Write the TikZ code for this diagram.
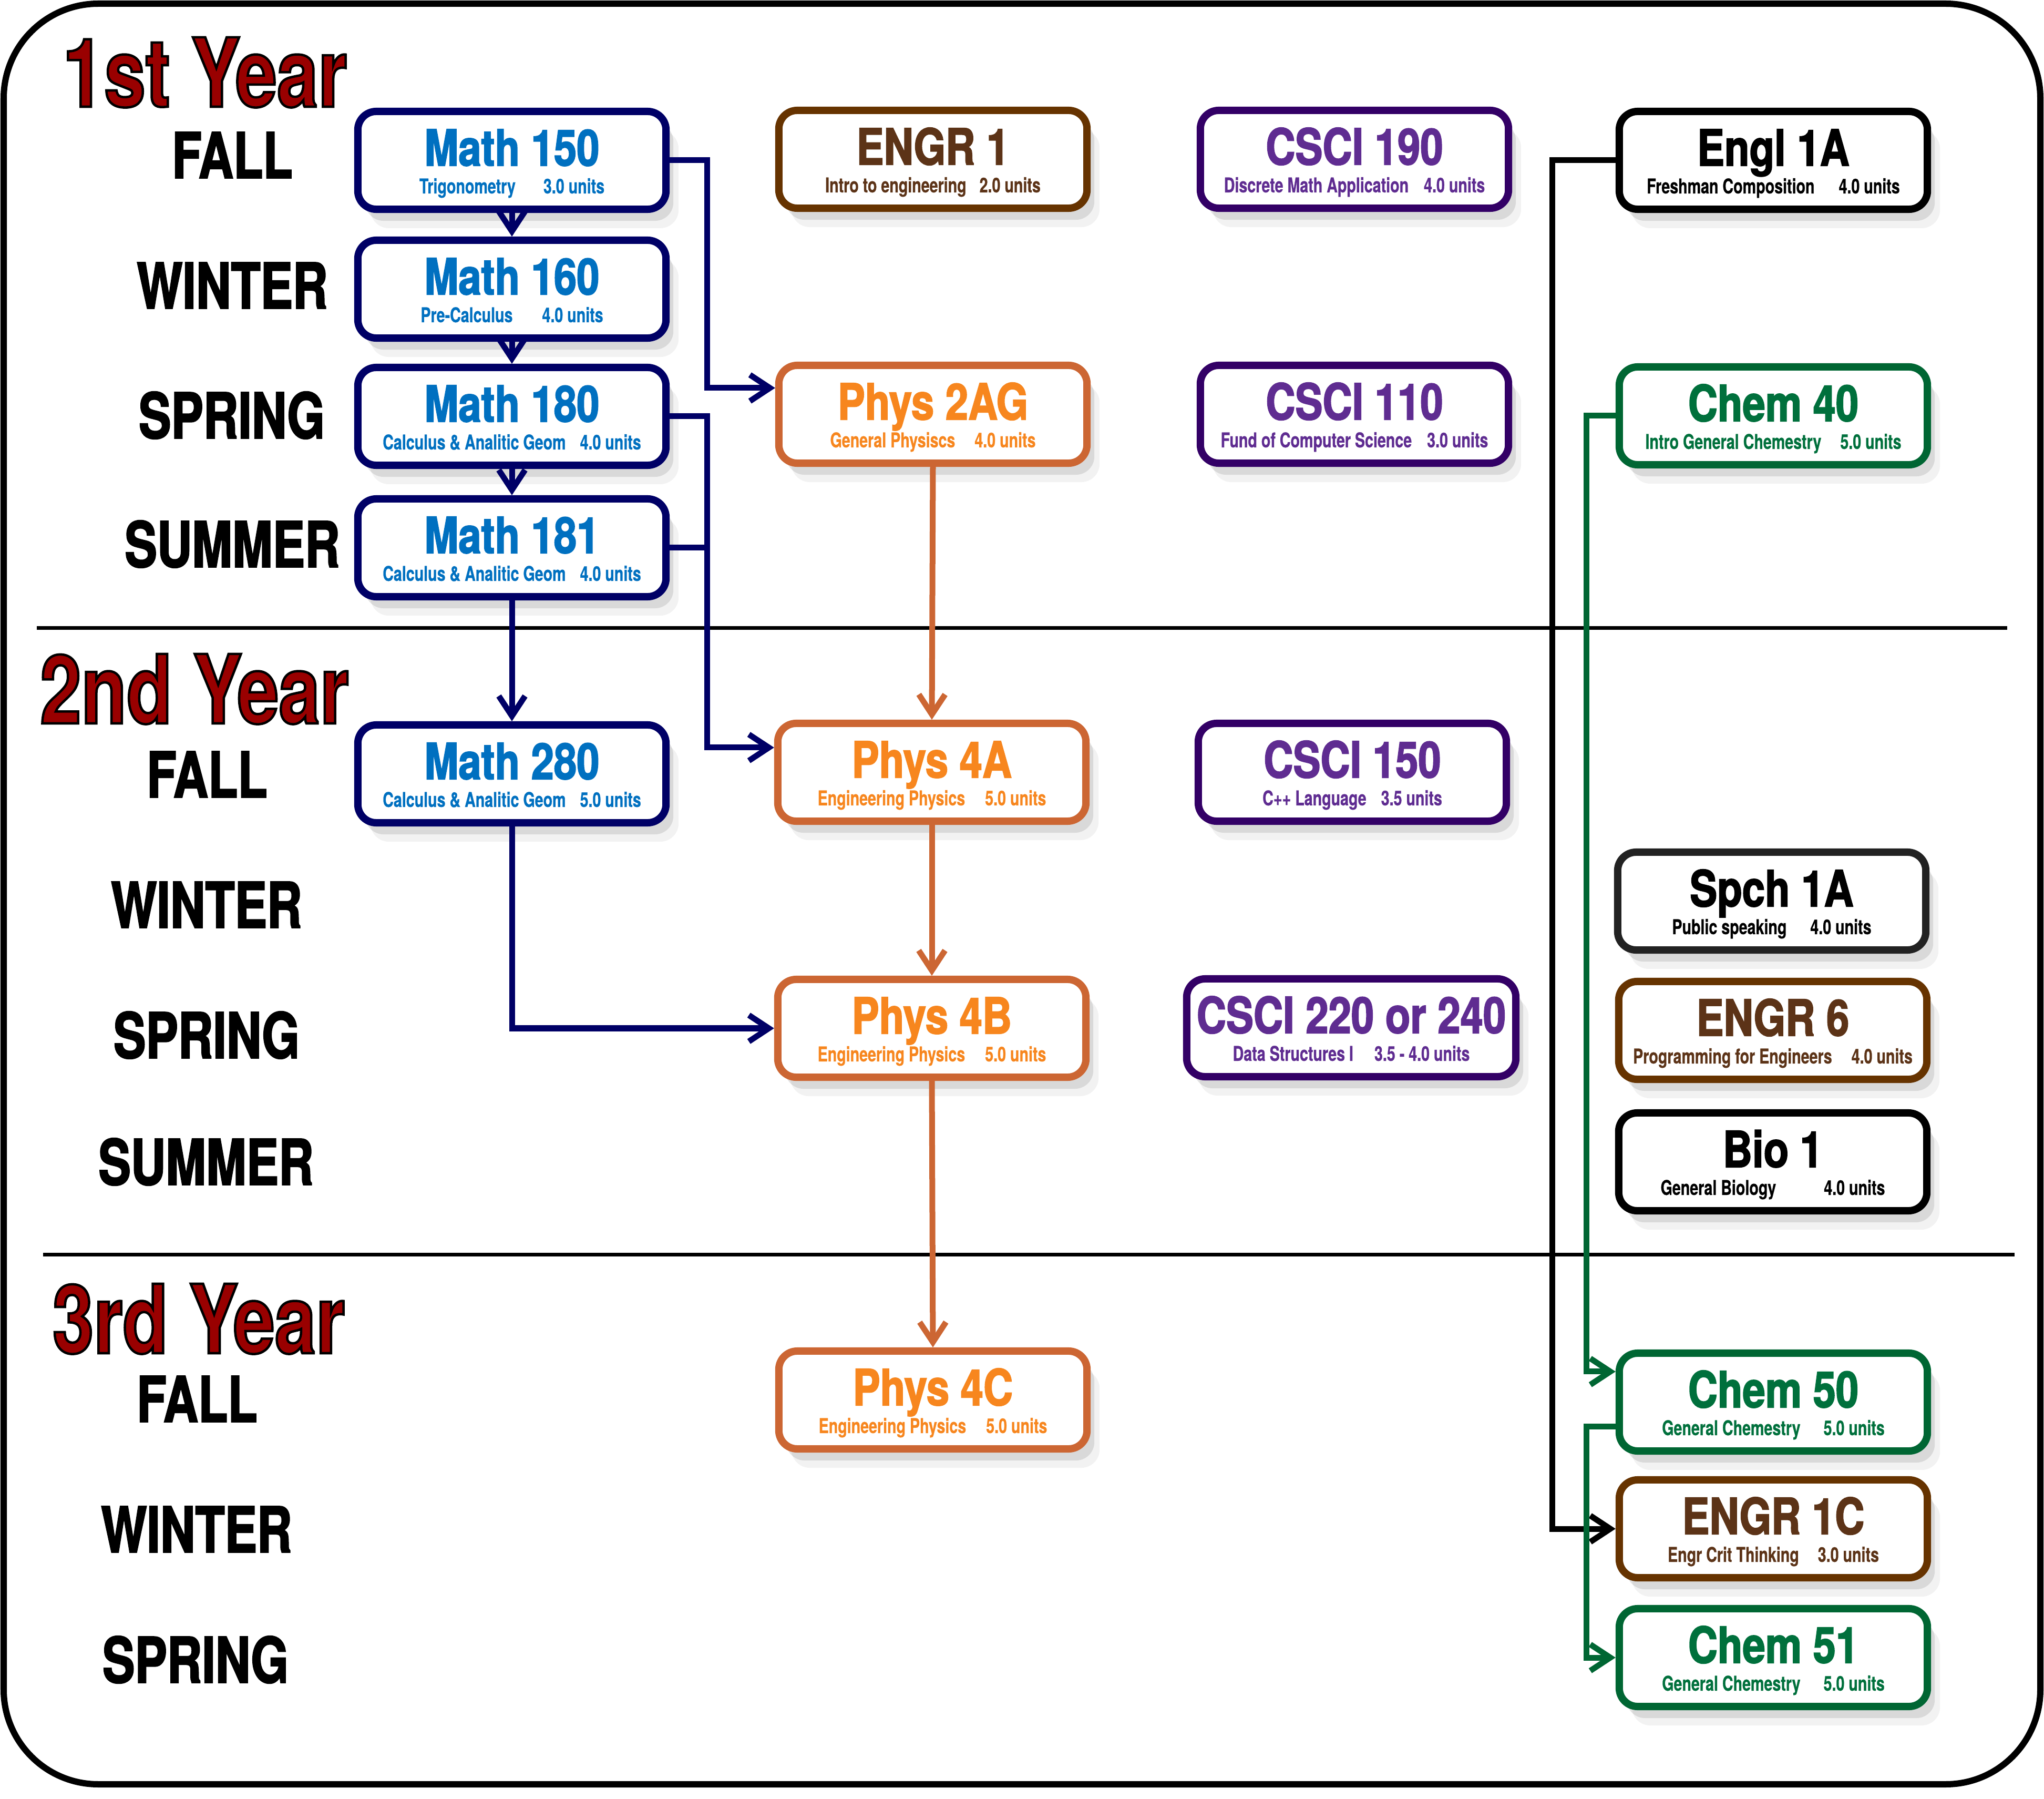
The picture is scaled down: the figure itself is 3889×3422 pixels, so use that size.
\documentclass[tikz,border=0pt]{standalone}
\usepackage{fontspec}
\usetikzlibrary{arrows.meta,shadows}

\newfontfamily\ttlfam[FakeStretch=0.82,FakeBold=2]{TeX Gyre Heros}
\newfontfamily\subfam[FakeStretch=0.74,FakeBold=0.6]{TeX Gyre Heros}
\newfontfamily\semfam[FakeStretch=0.77,FakeBold=2]{TeX Gyre Heros}
\newfontfamily\yrfam[FakeStretch=0.78,FakeBold=2.5]{TeX Gyre Heros}

\definecolor{mathblue}{HTML}{0070C0}
\definecolor{mathnavy}{HTML}{000066}
\definecolor{engrtext}{HTML}{5C3317}
\definecolor{engrline}{HTML}{663300}
\definecolor{cscitext}{HTML}{5F2C91}
\definecolor{csciline}{HTML}{330066}
\definecolor{phystext}{HTML}{F7861E}
\definecolor{physline}{HTML}{CC6633}
\definecolor{chemtext}{HTML}{00703C}
\definecolor{chemline}{HTML}{006633}
\definecolor{yearred}{HTML}{990000}
\definecolor{spchline}{HTML}{222222}

\newcommand{\ttlfont}{\ttlfam\bfseries\fontsize{27}{15}\selectfont}
\newcommand{\subfont}{\subfam\bfseries\fontsize{11}{15}\selectfont\lineskiplimit=-20pt}
\newcommand{\course}[7]{\node[#2] (#1) at (#3) {{\ttlfont\rule{0pt}{0.83cm}#4}\\#5\hspace{#6}#7\rule[-0.1cm]{0pt}{0.1cm}};}
\newcommand{\sem}[3]{\node[semlabel] (#1) at (#2) {#3};}
\newcommand{\yr}[3]{\node[yearlabel] (#1) at (#2) {\special{pdf:bcolor [0.6 0 0] [0 0 0]}#3\special{pdf:ecolor}};}

\tikzset{
  box/.style={rounded corners=0.35cm, line width=0.14cm, fill=white,
    minimum width=5.86cm, minimum height=1.86cm, inner sep=0pt, align=center,
    font=\subfont,
    drop shadow={shadow xshift=0.24cm, shadow yshift=-0.36cm, opacity=0.1},
    drop shadow={shadow xshift=0.14cm, shadow yshift=-0.22cm, opacity=0.22}},
  mathbox/.style={box, draw=mathnavy, text=mathblue},
  engrbox/.style={box, draw=engrline, text=engrtext},
  cscibox/.style={box, draw=csciline, text=cscitext},
  physbox/.style={box, draw=physline, text=phystext},
  chembox/.style={box, draw=chemline, text=chemtext},
  genbox/.style={box, draw=black, text=black},
  spchbox/.style={box, draw=spchline, text=black},
  semlabel/.style={font=\semfam\bfseries\fontsize{34}{34}\selectfont, inner sep=0pt},
  yearlabel/.style={font=\yrfam\bfseries\fontsize{51.5}{52}\selectfont, text=yearred, anchor=base, inner sep=0pt},
  wire/.style={line width=0.11cm},
  link/.style={wire, -{Straight Barb[length=0.38cm,width=0.5cm]}},
  sepline/.style={line width=0.07cm}
}

\begin{document}
\begin{tikzpicture}[x=0.01cm, y=-0.01cm]
  \useasboundingbox (0,0) rectangle (3889,3422);
  \draw[line width=0.12cm, rounded corners=1.8cm] (7,7) rectangle (3882,3394);

  \draw[sepline] (70,1195) -- (3819,1195);
  \draw[sepline] (82,2386) -- (3833,2386);

  % year 1
  \yr{y1}{390,203}{1st Year}
  \sem{s1fall}{442,295}{FALL}
  \sem{s1win}{442,543}{WINTER}
  \sem{s1spr}{441,790}{SPRING}
  \sem{s1sum}{442,1035}{SUMMER}

  % year 2
  \yr{y2}{370,1376}{2nd Year}
  \sem{s2fall}{394,1473}{FALL}
  \sem{s2win}{393,1721}{WINTER}
  \sem{s2spr}{393,1969}{SPRING}
  \sem{s2sum}{392,2210}{SUMMER}

  % year 3
  \yr{y3}{378,2574}{3rd Year}
  \sem{s3fall}{375,2661}{FALL}
  \sem{s3win}{374,2909}{WINTER}
  \sem{s3spr}{372,3157}{SPRING}

  % math
  \course{m150}{mathbox}{974,305}{Math 150}{Trigonometry}{5.3mm}{3.0 units}
  \course{m160}{mathbox}{974,550}{Math 160}{Pre-Calculus}{5.6mm}{4.0 units}
  \course{m180}{mathbox}{974,792}{Math 180}{Calculus \& Analitic Geom}{2.7mm}{4.0 units}
  \course{m181}{mathbox}{974,1042}{Math 181}{Calculus \& Analitic Geom}{2.7mm}{4.0 units}
  \course{m280}{mathbox}{974,1472}{Math 280}{Calculus \& Analitic Geom}{2.7mm}{5.0 units}

  % engineering / physics
  \course{engr1}{engrbox}{1775,303}{ENGR 1}{Intro to engineering}{2.5mm}{2.0 units}
  \course{p2ag}{physbox}{1775,788}{Phys 2AG}{General Physiscs}{3.7mm}{4.0 units}
  \course{p4a}{physbox}{1773,1469}{Phys 4A}{Engineering Physics}{3.8mm}{5.0 units}
  \course{p4b}{physbox}{1773,1956}{Phys 4B}{Engineering Physics}{3.8mm}{5.0 units}
  \course{p4c}{physbox}{1775,2663}{Phys 4C}{Engineering Physics}{3.8mm}{5.0 units}

  % computer science
  \course{cs190}{cscibox}{2577,303}{CSCI 190}{Discrete Math Application}{2.9mm}{4.0 units}
  \course{cs110}{cscibox}{2577,788}{CSCI 110}{Fund of Computer Science}{2.9mm}{3.0 units}
  \course{cs150}{cscibox}{2573,1469}{CSCI 150}{C++ Language}{2.8mm}{3.5 units}
  \node[cscibox, minimum width=6.26cm] (cs220) at (2571,1955)
    {{\ttlfont\rule{0pt}{0.83cm}CSCI 220 or 240}\\Data Structures I\hspace{4mm}3.5 - 4.0 units\rule[-0.1cm]{0pt}{0.1cm}};

  % general ed / chemistry
  \course{e1a}{genbox}{3374,305}{Engl 1A}{Freshman Composition}{4.6mm}{4.0 units}
  \course{c40}{chembox}{3374,791}{Chem 40}{Intro General Chemestry}{3.6mm}{5.0 units}
  \course{sp1a}{spchbox}{3371,1714}{Spch 1A}{Public speaking}{4.5mm}{4.0 units}
  \course{engr6}{engrbox}{3373,1960}{ENGR 6}{Programming for Engineers}{3.7mm}{4.0 units}
  \course{bio1}{genbox}{3373,2210}{Bio 1}{General Biology}{9.1mm}{4.0 units}
  \course{c50}{chembox}{3374,2667}{Chem 50}{General Chemestry}{4.4mm}{5.0 units}
  \course{engr1c}{engrbox}{3374,2908}{ENGR 1C}{Engr Crit Thinking}{3.6mm}{3.0 units}
  \course{c51}{chembox}{3374,3153}{Chem 51}{General Chemestry}{4.4mm}{5.0 units}

  % connectors
  \coordinate (mbus) at (1345,0);
  \coordinate (ebus) at (2953,0);
  \coordinate (gbus) at (3018,0);
  \coordinate (p2agin) at ([yshift=5mm]p2ag.west);
  \coordinate (p4ain) at ([yshift=4.7mm]p4a.west);
  \coordinate (c50in) at ([yshift=5.8mm]c50.west);
  \coordinate (c50out) at ([yshift=-4.6mm]c50.west);

  \draw[link, mathnavy] (m150.south) -- (m160.north);
  \draw[link, mathnavy] (m160.south) -- (m180.north);
  \draw[link, mathnavy] (m180.south) -- (m181.north);
  \draw[link, mathnavy] (m181.south) -- (m280.north);
  \draw[link, mathnavy] (m150.east) -| (mbus |- p2agin) -- (p2agin);
  \draw[link, mathnavy] (m180.east) -| (mbus |- p4ain) -- (p4ain);
  \draw[wire, mathnavy] (m181.east) -- (mbus |- m181.east);
  \draw[link, mathnavy] (m280.south) |- (p4b.west);

  \draw[link, physline] (p2ag.south) -- (p4a.north);
  \draw[link, physline] (p4a.south) -- (p4b.north);
  \draw[link, physline] (p4b.south) -- (p4c.north);

  \draw[link, black] (e1a.west) -| (ebus |- engr1c.west) -- (engr1c.west);
  \draw[link, chemline] (c40.west) -| (gbus |- c50in) -- (c50in);
  \draw[link, chemline] (c50out) -| (gbus |- c51.west) -- (c51.west);
\end{tikzpicture}
\end{document}
